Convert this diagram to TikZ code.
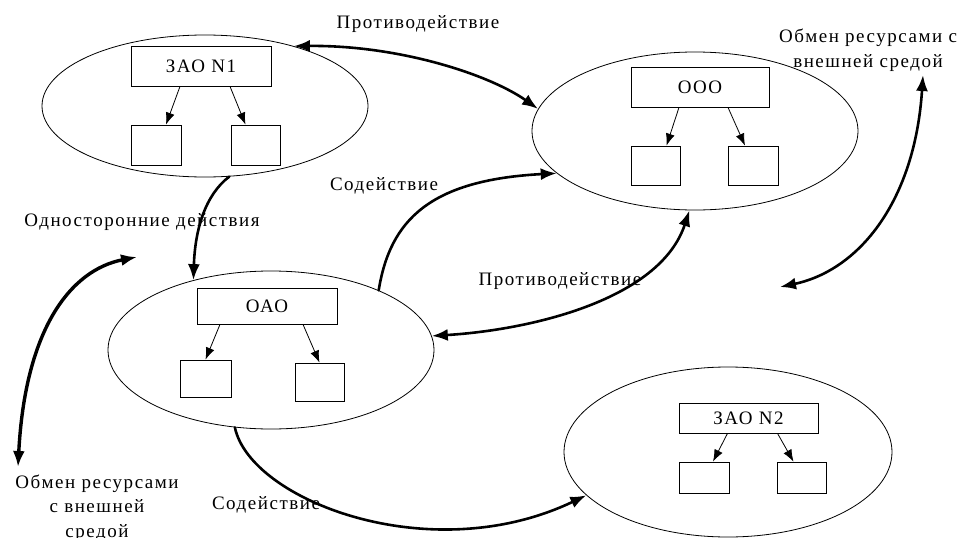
\documentclass[tikz,border=0pt]{standalone}
\usepackage{fontspec}
\setmainfont{Liberation Serif}[LetterSpace=8]
\usetikzlibrary{shapes.geometric,arrows.meta}
\newcommand{\lbl}{\fontsize{19}{24.5}\selectfont}
\begin{document}
\begin{tikzpicture}[x=1pt,y=-1pt,
  org/.style={draw, ellipse, line width=0.8pt, inner sep=0pt},
  box/.style={draw, rectangle, line width=0.8pt, inner sep=0pt, font=\lbl},
  leaf/.style={draw, rectangle, line width=0.8pt, inner sep=0pt},
  sub/.style={-{Latex[length=12pt,width=9pt]}, line width=0.8pt},
  bold/.style={line width=2.6pt, line cap=round},
  tipB/.style={-{Latex[length=16pt,width=12pt]}},
  tipBB/.style={{Latex[length=16pt,width=12pt]}-{Latex[length=16pt,width=12pt]}},
  txt/.style={font=\lbl, inner sep=0pt, align=center}
]
\useasboundingbox (0,0) rectangle (959,538);

% ellipses
\node[org, minimum width=326pt, minimum height=142pt] (e1) at (205,106) {};
\node[org, minimum width=326pt, minimum height=158pt] (e2) at (695,131) {};
\node[org, minimum width=326pt, minimum height=158pt] (e3) at (271,350) {};
\node[org, minimum width=328pt, minimum height=170pt] (e4) at (728,452) {};

% cluster 1
\node[box, minimum width=140pt, minimum height=40pt] (b1) at (201,66) {ЗАО N1};
\node[leaf, minimum width=50pt, minimum height=40pt] (b1l) at (156,145) {};
\node[leaf, minimum width=49pt, minimum height=40pt] (b1r) at (255.5,145) {};
\draw[sub] ([xshift=-21pt]b1.south) -- ([xshift=10pt]b1l.north);
\draw[sub] ([xshift=29pt]b1.south) -- ([xshift=-10pt]b1r.north);

% cluster 2
\node[box, minimum width=138pt, minimum height=40pt] (b2) at (700,87) {ООО};
\node[leaf, minimum width=49pt, minimum height=39pt] (b2l) at (655.5,165.5) {};
\node[leaf, minimum width=50pt, minimum height=39pt] (b2r) at (753,165.5) {};
\draw[sub] ([xshift=-21pt]b2.south) -- ([xshift=11pt]b2l.north);
\draw[sub] ([xshift=28pt]b2.south) -- ([xshift=-8pt]b2r.north);

% cluster 3
\node[box, minimum width=140pt, minimum height=36pt] (b3) at (267,306) {ОАО};
\node[leaf, minimum width=51pt, minimum height=37pt] (b3l) at (205.5,378.5) {};
\node[leaf, minimum width=49pt, minimum height=38pt] (b3r) at (319.5,382) {};
\draw[sub] ([xshift=-47pt]b3.south) -- ([xshift=0pt]b3l.north);
\draw[sub] ([xshift=36pt]b3.south) -- ([xshift=0pt]b3r.north);

% cluster 4
\node[box, minimum width=139pt, minimum height=30pt] (b4) at (748.5,418) {ЗАО N2};
\node[leaf, minimum width=50pt, minimum height=31pt] (b4l) at (704,477.5) {};
\node[leaf, minimum width=49pt, minimum height=31pt] (b4r) at (801.5,477.5) {};
\draw[sub] ([xshift=-21pt]b4.south) -- ([xshift=9pt]b4l.north);
\draw[sub] ([xshift=29pt]b4.south) -- ([xshift=-8pt]b4r.north);

% free ends
\coordinate (r1) at (780,287);
\coordinate (r2) at (923,75);
\coordinate (l1) at (137,257);
\coordinate (l2) at (18,467);

% connectors
\draw[bold, tipBB] (e1.34) .. controls (400,45) and (490,75) .. (e2.172);
\draw[bold, tipB] (e3.29) .. controls (390,220) and (430,180) .. (e2.197);
\draw[bold, tipBB] (e3.5) .. controls (530,330) and (660,300) .. (e2.266);
\draw[bold, tipB] (e1.289) .. controls (205,195) and (195,230) .. (e3.138);
\draw[bold, tipB] (e3.245) .. controls (250,500) and (430,570) .. (e4.197);
\draw[bold, tipBB] (r1) .. controls (860,270) and (915,200) .. (r2);
\draw[line width=3.4pt, line cap=round, tipBB] (l1) .. controls (70,270) and (25,330) .. (l2);

% labels
\node[txt] (t1) at (418,24) {Противодействие};
\node[txt] (t2) at (384,186) {Содействие};
\node[txt] (t3) at (560,281) {Противодействие};
\node[txt] (t4) at (868,50) {Обмен ресурсами с\\внешней средой};
\node[txt] (t5) at (142,222) {Односторонние действия};
\node[txt] (t6) at (97,508) {Обмен ресурсами\\с внешней\\средой};
\node[txt] (t7) at (266,505) {Содействие};
\end{tikzpicture}
\end{document}
